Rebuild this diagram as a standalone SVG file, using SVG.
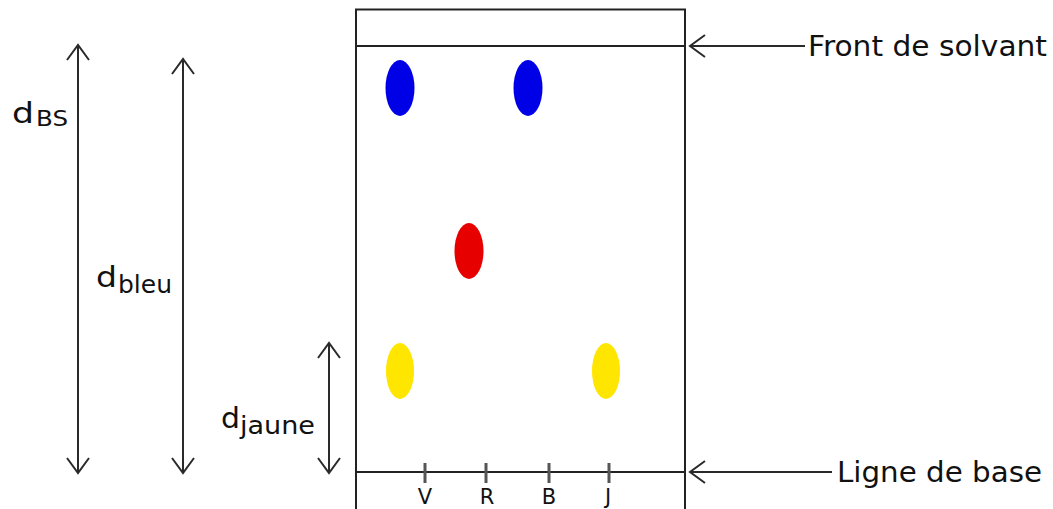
<svg xmlns="http://www.w3.org/2000/svg" width="1053" height="509" viewBox="0 0 1053 509">
<style>
.ln{stroke:#222;stroke-width:2;fill:none}
.arr{stroke:#2a2a2a;stroke-width:2;fill:none;marker-end:url(#ah)}
.dbl{marker-start:url(#ah)}
.tick{stroke:#555;stroke-width:3}
text{font-family:"DejaVu Sans","Verdana",sans-serif;fill:#111}
.lbl{font-size:28px}
.sub{font-size:24px}
.tl{font-size:21px;text-anchor:middle}
</style>
<defs>
<marker id="ah" markerUnits="userSpaceOnUse" viewBox="-18 -13 20 26" refX="0" refY="0" markerWidth="20" markerHeight="26" orient="auto-start-reverse">
<path d="M-15,-11 L0,0 L-15,11" fill="none" stroke="#2a2a2a" stroke-width="2"/>
</marker>
</defs>
<rect width="1053" height="509" fill="#fff"/>
<g id="plate">
<path class="ln" d="M356,512 V9.5 H685 V512"/>
<line class="ln" x1="356" y1="46" x2="685" y2="46"/>
<line class="ln" x1="356" y1="472" x2="685" y2="472"/>
</g>
<g id="spots">
<ellipse id="spot-v-blue" cx="400" cy="88" rx="14.5" ry="28" fill="#0000e6"/>
<ellipse id="spot-b-blue" cx="528" cy="88" rx="14.5" ry="28" fill="#0000e6"/>
<ellipse id="spot-r-red" cx="469" cy="251" rx="14.5" ry="28" fill="#e60000"/>
<ellipse id="spot-v-yellow" cx="400" cy="371" rx="14" ry="28" fill="#ffe600"/>
<ellipse id="spot-j-yellow" cx="606" cy="371" rx="14" ry="28" fill="#ffe600"/>
</g>
<g id="ticks">
<line class="tick" x1="425" y1="463" x2="425" y2="483"/>
<line class="tick" x1="486" y1="463" x2="486" y2="483"/>
<line class="tick" x1="549" y1="463" x2="549" y2="483"/>
<line class="tick" x1="609" y1="463" x2="609" y2="483"/>
<text class="tl" x="425" y="504">V</text>
<text class="tl" x="487" y="504">R</text>
<text class="tl" x="549" y="504">B</text>
<text class="tl" x="608" y="504">J</text>
</g>
<g id="connectors">
<line class="arr" x1="805" y1="46" x2="690" y2="46"/>
<line class="arr" x1="832" y1="472" x2="690" y2="472"/>
<line class="arr dbl" x1="78" y1="473" x2="78" y2="45"/>
<line class="arr dbl" x1="183" y1="473" x2="183" y2="59"/>
<line class="arr dbl" x1="329" y1="473" x2="329" y2="343"/>
</g>
<g id="label-front"><text class="lbl" x="808" y="56" textLength="239" lengthAdjust="spacingAndGlyphs">Front de solvant</text></g>
<g id="label-base"><text class="lbl" x="837" y="482" textLength="205" lengthAdjust="spacingAndGlyphs">Ligne de base</text></g>
<g id="label-dbs"><text class="lbl" x="12" y="123" textLength="22" lengthAdjust="spacingAndGlyphs">d</text><text class="sub" x="36" y="126" style="font-size:21px" textLength="32" lengthAdjust="spacingAndGlyphs">BS</text></g>
<g id="label-dbleu"><text class="lbl" x="96" y="287" textLength="21" lengthAdjust="spacingAndGlyphs">d</text><text class="sub" x="118" y="293" textLength="54" lengthAdjust="spacingAndGlyphs">bleu</text></g>
<g id="label-djaune"><text class="lbl" x="221" y="428" textLength="19" lengthAdjust="spacingAndGlyphs">d</text><text class="sub" x="240" y="434" textLength="75" lengthAdjust="spacingAndGlyphs">jaune</text></g>
</svg>
